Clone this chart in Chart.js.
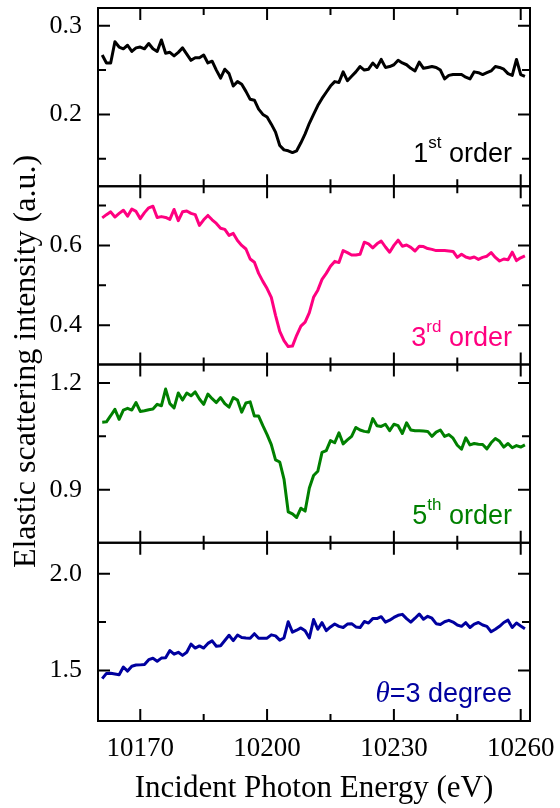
<!DOCTYPE html>
<html>
<head>
<meta charset="utf-8">
<script src="https://cdn.jsdelivr.net/npm/chart.js@4.4.1/dist/chart.umd.min.js"></script>
<style>
  html, body { margin: 0; padding: 0; background: #fff; }
</style>
</head>
<body>
<canvas id="myChart" width="560" height="808"></canvas>
<script>
// incident photon energy (eV)
const energy = [
  10161, 10162, 10163, 10164, 10165, 10166, 10167, 10168, 10169, 10170,
  10171, 10172, 10173, 10174, 10175, 10176, 10177, 10178, 10179, 10180,
  10181, 10182, 10183, 10184, 10185, 10186, 10187, 10188, 10189, 10190,
  10191, 10192, 10193, 10194, 10195, 10196, 10197, 10198, 10199, 10200,
  10201, 10202, 10203, 10204, 10205, 10206, 10207, 10208, 10209, 10210,
  10211, 10212, 10213, 10214, 10215, 10216, 10217, 10218, 10219, 10220,
  10221, 10222, 10223, 10224, 10225, 10226, 10227, 10228, 10229, 10230,
  10231, 10232, 10233, 10234, 10235, 10236, 10237, 10238, 10239, 10240,
  10241, 10242, 10243, 10244, 10245, 10246, 10247, 10248, 10249, 10250,
  10251, 10252, 10253, 10254, 10255, 10256, 10257, 10258, 10259, 10260,
  10261
];

const order1 = [
  0.267, 0.258, 0.258, 0.282, 0.276, 0.274, 0.278, 0.271, 0.275, 0.276,
  0.274, 0.280, 0.274, 0.271, 0.284, 0.269, 0.270, 0.266, 0.270, 0.275,
  0.268, 0.261, 0.264, 0.264, 0.267, 0.258, 0.260, 0.250, 0.241, 0.251,
  0.246, 0.232, 0.237, 0.234, 0.226, 0.217, 0.216, 0.206, 0.200, 0.197,
  0.189, 0.180, 0.165, 0.160, 0.159, 0.157, 0.159, 0.168, 0.178, 0.190,
  0.200, 0.210, 0.218, 0.225, 0.232, 0.237, 0.236, 0.248, 0.238, 0.243,
  0.248, 0.254, 0.250, 0.251, 0.258, 0.253, 0.262, 0.253, 0.254, 0.256,
  0.261, 0.258, 0.256, 0.252, 0.249, 0.259, 0.252, 0.253, 0.254, 0.253,
  0.250, 0.240, 0.244, 0.245, 0.245, 0.245, 0.242, 0.240, 0.248, 0.247,
  0.245, 0.247, 0.249, 0.254, 0.253, 0.251, 0.246, 0.244, 0.262, 0.245,
  0.243
];

const order3 = [
  0.669, 0.677, 0.684, 0.671, 0.680, 0.688, 0.673, 0.691, 0.685, 0.667,
  0.682, 0.694, 0.698, 0.670, 0.672, 0.670, 0.665, 0.690, 0.662, 0.684,
  0.686, 0.680, 0.677, 0.650, 0.664, 0.675, 0.664, 0.655, 0.643, 0.640,
  0.625, 0.630, 0.612, 0.600, 0.591, 0.566, 0.558, 0.530, 0.510, 0.492,
  0.470, 0.425, 0.385, 0.362, 0.347, 0.348, 0.375, 0.398, 0.408, 0.432,
  0.470, 0.488, 0.515, 0.530, 0.548, 0.560, 0.557, 0.587, 0.582, 0.576,
  0.576, 0.578, 0.608, 0.604, 0.594, 0.604, 0.611, 0.596, 0.583, 0.600,
  0.613, 0.598, 0.601, 0.595, 0.586, 0.598, 0.597, 0.592, 0.590, 0.587,
  0.587, 0.587, 0.586, 0.585, 0.570, 0.578, 0.571, 0.568, 0.571, 0.565,
  0.570, 0.573, 0.582, 0.570, 0.561, 0.566, 0.564, 0.583, 0.562, 0.569,
  0.574
];

const order5 = [
  1.090, 1.091, 1.108, 1.126, 1.098, 1.124, 1.129, 1.124, 1.145, 1.120,
  1.122, 1.125, 1.127, 1.140, 1.136, 1.183, 1.142, 1.130, 1.172, 1.152,
  1.172, 1.164, 1.175, 1.155, 1.140, 1.169, 1.156, 1.145, 1.159, 1.142,
  1.132, 1.159, 1.152, 1.118, 1.144, 1.147, 1.107, 1.107, 1.080, 1.055,
  1.027, 0.984, 0.978, 0.930, 0.838, 0.832, 0.822, 0.848, 0.840, 0.905,
  0.940, 0.952, 1.005, 1.010, 1.038, 1.032, 1.060, 1.029, 1.040, 1.050,
  1.075, 1.068, 1.064, 1.062, 1.100, 1.080, 1.078, 1.084, 1.066, 1.084,
  1.080, 1.058, 1.088, 1.068, 1.066, 1.066, 1.065, 1.064, 1.050, 1.062,
  1.068, 1.050, 1.055, 1.045, 1.025, 1.014, 1.046, 1.026, 1.030, 1.028,
  1.027, 1.015, 1.032, 1.044, 1.036, 1.020, 1.030, 1.018, 1.024, 1.020,
  1.026
];

const theta3 = [
  1.458, 1.485, 1.486, 1.482, 1.478, 1.518, 1.497, 1.522, 1.528, 1.529,
  1.531, 1.556, 1.563, 1.548, 1.564, 1.566, 1.603, 1.584, 1.594, 1.578,
  1.594, 1.636, 1.616, 1.627, 1.616, 1.640, 1.653, 1.625, 1.628, 1.655,
  1.682, 1.654, 1.683, 1.670, 1.668, 1.667, 1.690, 1.667, 1.667, 1.667,
  1.684, 1.679, 1.657, 1.668, 1.752, 1.698, 1.708, 1.720, 1.705, 1.668,
  1.763, 1.713, 1.747, 1.706, 1.725, 1.740, 1.728, 1.722, 1.740, 1.742,
  1.725, 1.722, 1.753, 1.745, 1.768, 1.768, 1.778, 1.750, 1.760, 1.774,
  1.785, 1.790, 1.768, 1.750, 1.770, 1.792, 1.765, 1.780, 1.770, 1.742,
  1.738, 1.752, 1.759, 1.750, 1.735, 1.728, 1.747, 1.722, 1.740, 1.748,
  1.735, 1.728, 1.700, 1.713, 1.728, 1.748, 1.760, 1.722, 1.745, 1.730,
  1.716
];

// tick values
const xMajor = [10170, 10200, 10230, 10260];
const xMinor = [10185, 10215, 10245];
const y1Major = [0.2, 0.3], y1Minor = [0.15, 0.25];
const y2Major = [0.4, 0.6], y2Minor = [0.5, 0.7];
const y3Major = [0.9, 1.2], y3Minor = [1.05];
const y4Major = [1.5, 2.0], y4Minor = [1.75];

const SERIF = 'Liberation Serif';
const SANS = 'Liberation Sans';

const panels = [
  { id: 'y1', data: order1, color: '#000000', min: 0.119, max: 0.320, major: y1Major, minor: y1Minor,
    gap: 24, label: [{ text: '1' }, { text: 'st', sup: true }, { text: ' order' }] },
  { id: 'y2', data: order3, color: '#ff0080', min: 0.302, max: 0.748, major: y2Major, minor: y2Minor,
    gap: 19, label: [{ text: '3' }, { text: 'rd', sup: true }, { text: ' order' }] },
  { id: 'y3', data: order5, color: '#008000', min: 0.751, max: 1.252, major: y3Major, minor: y3Minor,
    gap: 19, label: [{ text: '5' }, { text: 'th', sup: true }, { text: ' order' }] },
  { id: 'y4', data: theta3, color: '#00009f', min: 1.239, max: 2.160, major: y4Major, minor: y4Minor,
    gap: 19, label: [{ text: '\u03B8', ital: true }, { text: '=3 degree' }] }
];

const scales = {
  x: {
    type: 'linear',
    min: 10160,
    max: 10262.2,
    grid: { display: false, drawTicks: false },
    border: { display: false },
    ticks: {
      autoSkip: false, maxRotation: 0, padding: 12, color: '#000',
      font: { family: SERIF, size: 27 },
      callback: v => xMajor.includes(v) ? String(v) : ''
    },
    afterBuildTicks: s => {
      s.ticks = xMajor.concat(xMinor).sort((a, b) => a - b).map(v => ({ value: v }));
    },
    afterFit: s => { s.height = 87; s.paddingLeft = 0; s.paddingRight = 0; }
  }
};

panels.forEach((p, i) => {
  scales[p.id] = {
    type: 'linear',
    position: 'left',
    stack: 'panels',
    stackWeight: 1,
    weight: panels.length - i,
    min: p.min,
    max: p.max,
    grid: { display: false, drawTicks: false },
    border: { display: false },
    ticks: {
      autoSkip: false, padding: 16, color: '#000',
      font: { family: SERIF, size: 26 },
      callback: v => p.major.includes(v) ? v.toFixed(1) : ''
    },
    afterBuildTicks: s => {
      s.ticks = p.major.concat(p.minor).sort((a, b) => a - b).map(v => ({ value: v }));
    },
    afterFit: s => { s.width = 98; s.paddingTop = 0; s.paddingBottom = 0; }
  };
});

function drawParts(ctx, parts, right, base, color) {
  let total = 0;
  parts.forEach(pt => {
    pt.font = pt.sup ? '17px ' + SANS : pt.ital ? 'italic 29px ' + SERIF : '27px ' + SANS;
    ctx.font = pt.font;
    pt.w = ctx.measureText(pt.text).width;
    total += pt.w;
  });
  let x = right - total;
  ctx.fillStyle = color;
  ctx.textAlign = 'left';
  ctx.textBaseline = 'alphabetic';
  parts.forEach(pt => {
    ctx.font = pt.font;
    ctx.fillText(pt.text, x, base - (pt.sup ? 14 : 0));
    x += pt.w;
  });
}

const framePlugin = {
  id: 'frame',
  afterDraw(chart) {
    const ctx = chart.ctx;
    const a = chart.chartArea;
    const xs = chart.scales.x;
    ctx.save();
    ctx.strokeStyle = '#000';
    ctx.lineWidth = 2;
    panels.forEach(p => {
      const ys = chart.scales[p.id];
      const top = ys.top, bot = ys.bottom;
      ctx.strokeRect(a.left, top, a.right - a.left, bot - top);
      ctx.beginPath();
      xMajor.concat(xMinor).forEach(v => {
        const len = xMajor.includes(v) ? 12 : 7;
        const px = xs.getPixelForValue(v);
        ctx.moveTo(px, top); ctx.lineTo(px, top + len);
        ctx.moveTo(px, bot); ctx.lineTo(px, bot - len);
      });
      p.major.concat(p.minor).forEach(v => {
        const len = p.major.includes(v) ? 12 : 8;
        const py = ys.getPixelForValue(v);
        ctx.moveTo(a.left, py); ctx.lineTo(a.left + len, py);
        ctx.moveTo(a.right, py); ctx.lineTo(a.right - len, py);
      });
      ctx.stroke();
      drawParts(ctx, p.label, a.right - 18, bot - p.gap, p.color);
    });

    // axis titles
    ctx.fillStyle = '#000';
    ctx.font = '31px ' + SERIF;
    ctx.textAlign = 'center';
    ctx.textBaseline = 'alphabetic';
    ctx.fillText('Incident Photon Energy (eV)', (a.left + a.right) / 2, 797);

    ctx.translate(35, (a.top + a.bottom) / 2 - 3);
    ctx.rotate(-Math.PI / 2);
    ctx.font = '32px ' + SERIF;
    ctx.fillText('Elastic scattering intensity (a.u.)', 0, 0);
    ctx.restore();
  }
};

new Chart(document.getElementById('myChart').getContext('2d'), {
  type: 'line',
  data: {
    datasets: panels.map(p => ({
      data: energy.map((e, i) => ({ x: e, y: p.data[i] })),
      yAxisID: p.id,
      xAxisID: 'x',
      borderColor: p.color,
      borderWidth: 3,
      borderJoinStyle: 'round',
      pointRadius: 0,
      tension: 0,
      fill: false
    }))
  },
  options: {
    responsive: false,
    animation: false,
    layout: { padding: { left: 0, right: 30, top: 8, bottom: 0 } },
    plugins: { legend: { display: false }, tooltip: { enabled: false } },
    scales: scales
  },
  plugins: [framePlugin]
});
</script>
</body>
</html>
